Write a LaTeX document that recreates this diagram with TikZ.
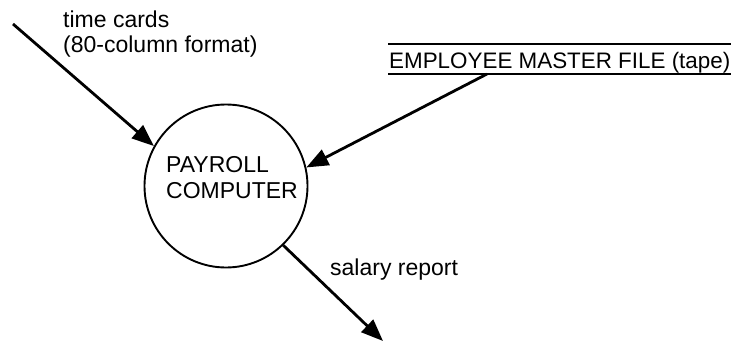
\documentclass[tikz,border=0pt]{standalone}
\usepackage{fontspec}
\setmainfont{Liberation Sans}
\usetikzlibrary{arrows.meta}
\begin{document}
\begin{tikzpicture}[x=1pt,y=-1pt,
  lbl/.style={inner sep=0pt,font=\fontsize{23}{25}\selectfont},
  flow/.style={line width=2.8pt,-{Triangle[length=22pt,width=17pt]}},
  proc/.style={circle,draw,line width=1.9pt,minimum size=163pt,inner sep=0pt},
  storeline/.style={line width=2.4pt}]
\clip (0,0) rectangle (731,342);
\useasboundingbox (0,0) rectangle (731,342);
\node[proc] (c) at (226,186) {};
\node[lbl,anchor=base west,align=left,font=\fontsize{23}{26}\selectfont] (ct) at (166,198) {PAYROLL\\COMPUTER};
\coordinate (tcs) at (13,24);
\node[lbl,anchor=base west,align=left] (tcl) at (63,53) {time cards\\(80-column format)};
\node[lbl,anchor=base west,font=\fontsize{22.4}{25}\selectfont] (store) at (389,69) {EMPLOYEE MASTER FILE (tape)};
\coordinate (stl) at (388,44);
\coordinate (str) at (745,44);
\coordinate (sbl) at (388,74);
\coordinate (sbr) at (745,74);
\draw[storeline] (stl) -- (str);
\draw[storeline] (sbl) -- (sbr);
\coordinate (sout) at (487,74);
\coordinate (srend) at (383,341);
\node[lbl,anchor=base west] (srl) at (330,275) {salary report};
\draw[flow] (tcs) -- (c.151);
\draw[flow] (sout) -- (c.13);
\draw[flow] (c.-46.5) -- (srend);
\end{tikzpicture}
\end{document}
